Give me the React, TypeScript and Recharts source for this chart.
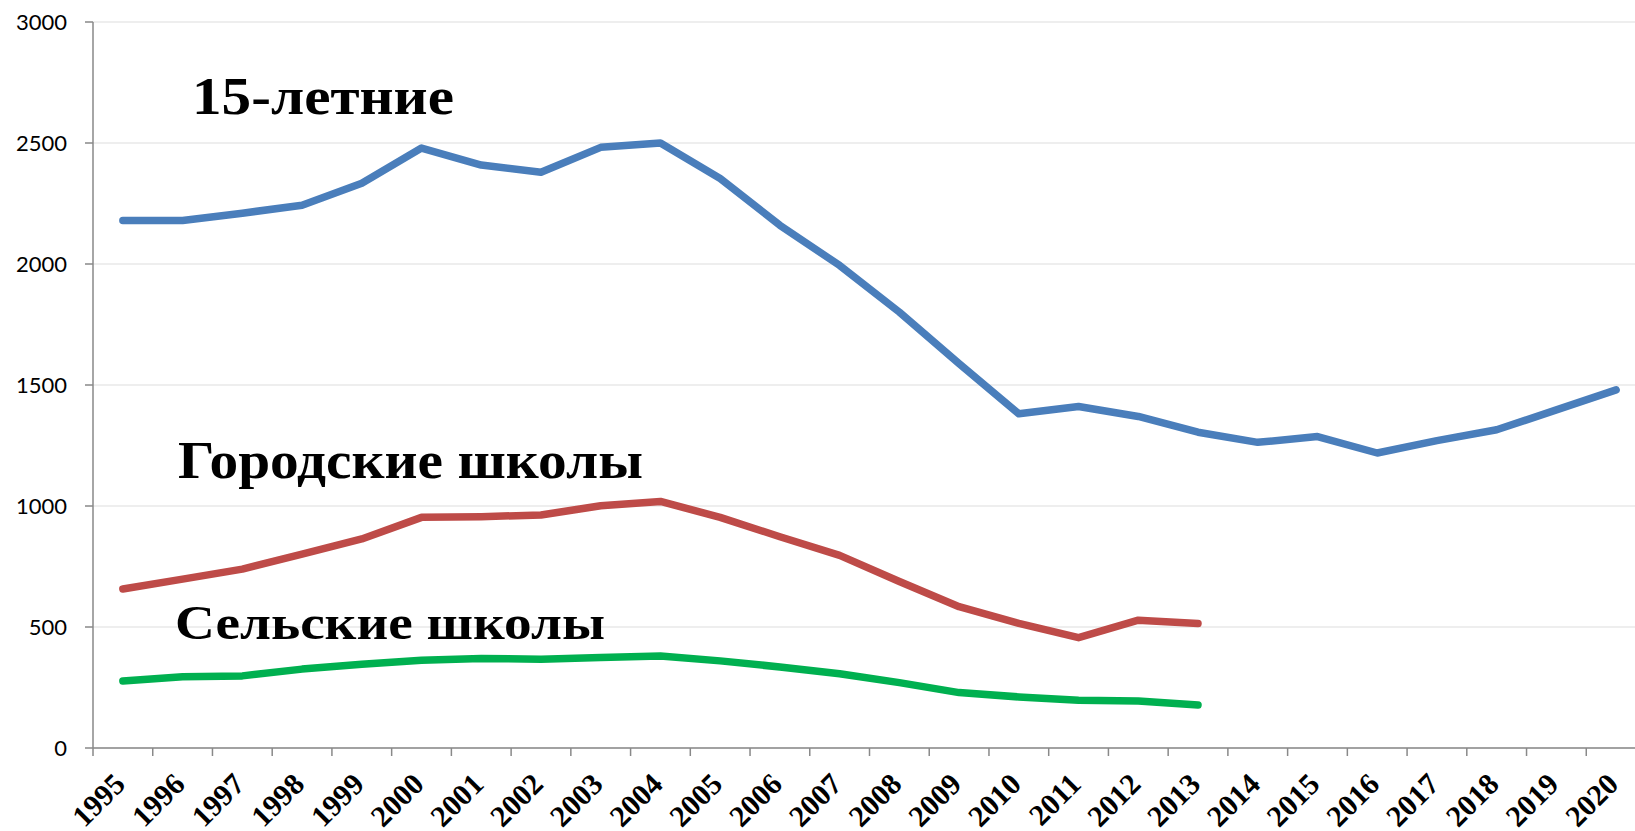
import { LineChart, Line, XAxis, YAxis, CartesianGrid } from 'recharts'

const years = [
  '1995', '1996', '1997', '1998', '1999', '2000', '2001', '2002', '2003',
  '2004', '2005', '2006', '2007', '2008', '2009', '2010', '2011', '2012',
  '2013', '2014', '2015', '2016', '2017', '2018', '2019', '2020',
]

// 15-летние
const teens = [
  2180, 2180, 2210, 2243, 2334, 2479, 2409, 2379, 2482, 2500, 2353, 2160, 1994,
  1801, 1588, 1381, 1411, 1370, 1305, 1263, 1287, 1219, 1270, 1315, 1397, 1480,
]

// Городские школы (до 2013)
const urban = [
  657, 698, 739, 801, 864, 953, 956, 963, 1001, 1019, 953, 873, 796, 688, 584,
  515, 456, 528, 514,
]

// Сельские школы (до 2013)
const rural = [
  277, 294, 298, 326, 346, 363, 370, 367, 374, 380, 360, 335, 307, 270, 229,
  211, 197, 194, 178,
]

const yTicks = [0, 500, 1000, 1500, 2000, 2500, 3000]

const data = years.map((year, i) => ({
  year,
  teens: teens[i],
  urban: urban[i] ?? null,
  rural: rural[i] ?? null,
}))

const AXIS = '#898989'
const GRID = '#e9e9e9'

function YearTick(props: any) {
  const { x, y, payload, width } = props
  const half = payload.offset || width / years.length / 2
  const tx = x + 4
  const ty = y + 38
  return (
    <g>
      <line x1={x - half} y1={y} x2={x - half} y2={y + 8} stroke={AXIS} strokeWidth={1.5} />
      <text
        x={tx}
        y={ty}
        transform={`rotate(-45, ${tx}, ${ty})`}
        textAnchor="end"
        fill="#000"
        fontFamily='"Liberation Serif", serif'
        fontWeight={700}
        fontSize={30}
      >
        {payload.value}
      </text>
    </g>
  )
}

export default function App() {
  return (
    <div style={{ position: 'relative', width: 1635, height: 831, overflow: 'hidden', background: '#fff' }}>
      <style>{'body{margin:0}'}</style>
      <LineChart width={1646} height={831} data={data} margin={{ top: 22, right: 0, left: 0, bottom: 0 }}>
        <CartesianGrid vertical={false} stroke={GRID} strokeWidth={1.5} />
        <XAxis
          dataKey="year"
          scale="band"
          interval={0}
          height={83}
          tickLine={false}
          tickSize={0}
          tickMargin={0}
          axisLine={{ stroke: AXIS, strokeWidth: 1.5 }}
          tick={<YearTick />}
        />
        <YAxis
          width={93}
          domain={[0, 3000]}
          ticks={yTicks}
          interval={0}
          tickSize={8}
          tickMargin={18}
          axisLine={{ stroke: AXIS, strokeWidth: 1.5 }}
          tickLine={{ stroke: AXIS, strokeWidth: 1.5 }}
          tick={{ fill: '#000', fontSize: 22, fontFamily: 'Lato, sans-serif' }}
        />
        <Line dataKey="teens" stroke="#4a7ebb" strokeWidth={7.5} dot={false} strokeLinecap="round" strokeLinejoin="round" isAnimationActive={false} />
        <Line dataKey="urban" stroke="#be4b48" strokeWidth={7.5} dot={false} strokeLinecap="round" strokeLinejoin="round" isAnimationActive={false} />
        <Line dataKey="rural" stroke="#00b050" strokeWidth={7.5} dot={false} strokeLinecap="round" strokeLinejoin="round" isAnimationActive={false} />
      </LineChart>
      <svg width={1635} height={831} style={{ position: 'absolute', left: 0, top: 0, pointerEvents: 'none' }}>
        <g fontFamily='"Liberation Serif", serif' fontWeight={700} fill="#000">
          <text x={192} y={114} fontSize={53} textLength={262} lengthAdjust="spacingAndGlyphs">15-летние</text>
          <text x={178} y={478} fontSize={52} textLength={465} lengthAdjust="spacingAndGlyphs">Городские школы</text>
          <text x={175} y={639} fontSize={48} textLength={430} lengthAdjust="spacingAndGlyphs">Сельские школы</text>
        </g>
      </svg>
    </div>
  )
}
